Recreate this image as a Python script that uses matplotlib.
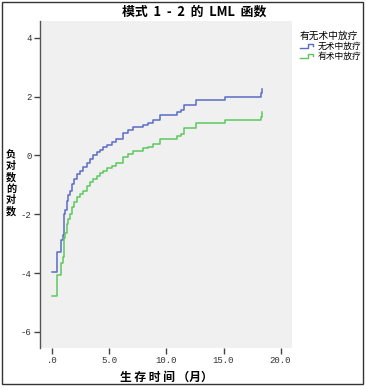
import matplotlib
matplotlib.use("Agg")
import matplotlib.pyplot as plt
from matplotlib.lines import Line2D
from matplotlib.legend_handler import HandlerBase
from matplotlib.patches import Rectangle

plt.rcParams['font.family'] = ['Noto Sans CJK SC', 'DejaVu Sans']

# ---- data ----
times = [0, 0.38, 0.76, 0.9, 1.0, 1.1, 1.26, 1.4, 1.55, 1.7, 1.9, 2.14, 2.4, 2.71,
         3.0, 3.3, 3.59, 3.9, 4.2, 4.47, 4.8, 5.2, 5.6, 6.2, 6.6, 7.1, 7.97, 8.4,
         8.84, 9.43, 10.9, 11.3, 11.5, 12.6, 15.1, 18.25, 18.35]
lml_no_rt = [-3.97, -3.30, -2.88, -2.70, -2.00, -1.85, -1.55, -1.35, -1.20, -0.96,
             -0.80, -0.62, -0.52, -0.40, -0.25, -0.12, 0.00, 0.10, 0.20, 0.28,
             0.36, 0.45, 0.55, 0.76, 0.85, 0.96, 1.04, 1.10, 1.19, 1.36, 1.47,
             1.53, 1.73, 1.89, 2.00, 2.11, 2.26]
lml_rt = [-4.77, -4.08, -3.65, -3.45, -2.80, -2.65, -2.35, -2.15, -2.00, -1.76,
          -1.60, -1.42, -1.32, -1.20, -1.05, -0.92, -0.80, -0.70, -0.60, -0.52,
          -0.44, -0.35, -0.25, -0.04, 0.05, 0.16, 0.24, 0.30, 0.39, 0.56, 0.67,
          0.73, 0.93, 1.09, 1.20, 1.31, 1.46]
series_names = ['无术中放疗', '有术中放疗']
legend_title = '有无术中放疗'
y_label_chars = ['负', '对', '数', '的', '对', '数']
xticks = [0, 5, 10, 15, 20]
xticklabels = ['.0', '5.0', '10.0', '15.0', '20.0']
yticks = [4, 2, 0, -2, -4, -6]
yticklabels = ['4', '2', '0', '-2', '-4', '-6']

blue = '#5a6cc6'
green = '#5cc85c'

W, H = 366, 389
fig = plt.figure(figsize=(W/100, H/100), dpi=100)
ax = fig.add_axes([40/W, 41/H, 252/W, 327/H])
ax.set_facecolor('#f0f0f0')

ax.step(times, lml_no_rt, where='post', color=blue, lw=1.1, label=series_names[0])
ax.step(times, lml_rt, where='post', color=green, lw=1.1, label=series_names[1])

ax.set_xlim(-1.08, 21.0)
ax.set_ylim(-6.55, 4.57)
ax.set_xticks(xticks)
ax.set_xticklabels(xticklabels)
ax.set_yticks(yticks)
ax.set_yticklabels(yticklabels)
for lbl in ax.get_xticklabels() + ax.get_yticklabels():
    lbl.set_fontfamily(['Liberation Mono', 'DejaVu Sans'])
    lbl.set_fontsize(6.5)
    lbl.set_color('#333333')
ax.tick_params(axis='both', length=4, width=1, color='#444444', pad=2)

for s in ['top', 'right', 'bottom']:
    ax.spines[s].set_visible(False)
ax.spines['left'].set_color('#555555')
ax.spines['left'].set_linewidth(1)

ax.set_xlabel('生 存 时 间 （月）', fontsize=8.5, fontweight='bold', labelpad=4)

# vertical stacked y label
y_top_px = 155
step_px = 11.2
for i, ch in enumerate(y_label_chars):
    fig.text(11/W, 1 - (y_top_px + i*step_px)/H, ch, ha='center', va='center',
             fontsize=7.3, fontweight='bold')

fig.text(0.53, 0.969, '模式  1  -  2  的  LML  函数', ha='center', va='center',
         fontsize=9.3, fontweight='bold')


class StepHandler(HandlerBase):
    def create_artists(self, legend, orig_handle, xdescent, ydescent,
                       width, height, fontsize, trans):
        x0 = -xdescent
        y0 = -ydescent
        xs = [x0, x0 + width*0.55, x0 + width*0.55, x0 + width*0.9, x0 + width*0.9]
        ys = [y0 + height*0.15, y0 + height*0.15, y0 + height*0.75,
              y0 + height*0.75, y0 + height*0.4]
        ln = Line2D(xs, ys, color=orig_handle.get_color(), lw=1.0)
        ln.set_transform(trans)
        return [ln]


handles = [Line2D([], [], color=blue), Line2D([], [], color=green)]
leg = fig.legend(handles, series_names, title=legend_title,
                 loc='upper left', bbox_to_anchor=(291/W, 1 - 22/H),
                 frameon=False, fontsize=6.3, title_fontsize=7,
                 handler_map={Line2D: StepHandler()},
                 handlelength=1.7, handletextpad=0.3, labelspacing=0.1,
                 borderpad=0.5)
leg._legend_box.align = 'left'

fig.add_artist(Rectangle((1.5/W, 5.5/H), 361.5/W, 382/H,
                         transform=fig.transFigure, fill=False,
                         edgecolor='#333333', lw=1.0))

fig.savefig('out.png', dpi=100)
